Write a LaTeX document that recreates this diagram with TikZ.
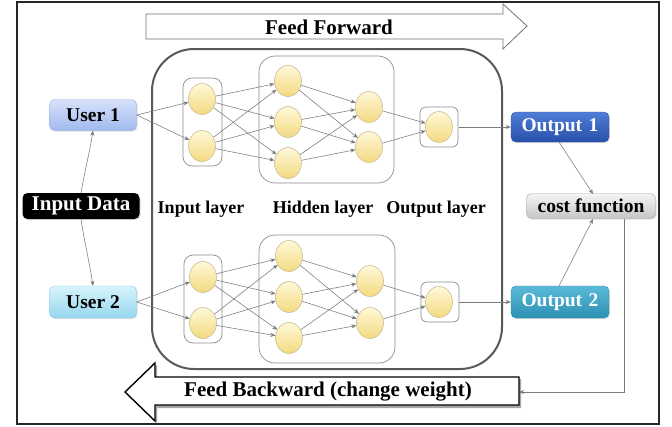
\documentclass[tikz,border=0pt]{standalone}
\usepackage{fontspec}
\setmainfont{Liberation Serif}
\usetikzlibrary{shapes.geometric,arrows.meta,shadows}

\definecolor{linkgray}{HTML}{7A7A7A}
\definecolor{boxgray}{HTML}{8C8C8C}
\definecolor{neurontop}{HTML}{FFF8D8}
\definecolor{neuronbot}{HTML}{F3DA80}
\definecolor{neuronedge}{HTML}{C9BE96}

\tikzset{
  neuron/.style={ellipse, minimum width=27pt, minimum height=31pt, inner sep=0pt,
    top color=neurontop, bottom color=neuronbot, draw=neuronedge, line width=0.6pt},
  layerbox/.style={draw=boxgray, rounded corners=9pt, line width=0.7pt, fill=white},
  link/.style={draw=linkgray, line width=0.55pt, -{Stealth[length=5pt,width=4pt]}},
  tagbox/.style={rounded corners=5pt, font=\bfseries\fontsize{19.5}{21}\selectfont,
    inner sep=0pt, drop shadow={opacity=0.25, shadow xshift=1pt, shadow yshift=-1pt}},
  caption/.style={font=\bfseries\fontsize{18}{20}\selectfont},
}

\begin{document}
\begin{tikzpicture}[x=1pt, y=-1pt]
  \useasboundingbox (0,0) rectangle (672,426);
  \fill[white] (0,0) rectangle (672,426);

  % outer frame
  \draw[line width=1.6pt, black!85] (17,2) rectangle (659,424);

  % Feed Forward arrow
  \draw[draw=black!55, line width=0.8pt, fill=white]
    (146,14) -- (503,14) -- (503,4) -- (527,26) -- (503,49) -- (503,39) -- (146,39) -- cycle;
  \node[font=\bfseries\fontsize{21}{23}\selectfont] (ff) at (329,27) {Feed Forward};

  % Feed Backward arrow (with shadow)
  \fill[black!35] (521,379) -- (157,379) -- (157,365) -- (127,394) -- (157,423) -- (157,408) -- (521,408) -- cycle;
  \draw[draw=black, line width=1.4pt, fill=white]
    (519,377) -- (155,377) -- (155,363) -- (125,392) -- (155,421) -- (155,405) -- (519,405) -- cycle;
  \coordinate (fbin) at (519,392);
  \node[font=\bfseries\fontsize{21}{23}\selectfont] (fb) at (328,392) {Feed Backward (change weight)};

  % network container
  \draw[line width=2pt, black!65, rounded corners=42pt] (152,49) rectangle (502,369);

  % layer boxes, upper network
  \draw[layerbox] (183,78) rectangle (222,166);
  \draw[layerbox, rounded corners=16pt] (259,56) rectangle (394,183);
  \draw[layerbox, rounded corners=6pt] (420,107) rectangle (458,147);
  % layer boxes, lower network
  \draw[layerbox] (184,255) rectangle (222,343);
  \draw[layerbox, rounded corners=16pt] (259,235) rectangle (395,363);
  \draw[layerbox, rounded corners=6pt] (421,282) rectangle (459,322);

  % neurons, upper network
  \node[neuron] (ai1) at (202,99) {};
  \node[neuron] (ai2) at (202,146) {};
  \node[neuron] (ah1) at (288,81) {};
  \node[neuron] (ah2) at (288,122) {};
  \node[neuron] (ah3) at (288,163) {};
  \node[neuron] (ak1) at (369,107) {};
  \node[neuron] (ak2) at (369,147) {};
  \node[neuron] (ao)  at (439,127) {};
  % neurons, lower network
  \node[neuron] (bi1) at (203,277) {};
  \node[neuron] (bi2) at (203,323) {};
  \node[neuron] (bh1) at (289,256) {};
  \node[neuron] (bh2) at (289,297) {};
  \node[neuron] (bh3) at (289,338) {};
  \node[neuron] (bk1) at (370,281) {};
  \node[neuron] (bk2) at (370,323) {};
  \node[neuron] (bo)  at (439,302) {};

  % layer captions
  \node[caption] (capin)  at (201,209) {Input layer};
  \node[caption] (caphid) at (323,209) {Hidden layer};
  \node[caption] (capout) at (436,209) {Output layer};

  % side boxes
  \node[tagbox, top color={rgb,255:red,215;green,226;blue,250}, bottom color={rgb,255:red,160;green,185;blue,238},
        draw={rgb,255:red,150;green,175;blue,225},
        minimum width=87pt, minimum height=31pt] (u1) at (93,115) {User 1};
  \node[tagbox, top color={rgb,255:red,215;green,244;blue,252}, bottom color={rgb,255:red,150;green,215;blue,238},
        draw={rgb,255:red,140;green,200;blue,225},
        minimum width=87pt, minimum height=32pt] (u2) at (93,302) {User 2};
  \node[tagbox, fill=black, text=white, font=\bfseries\fontsize{21}{23}\selectfont,
        minimum width=117pt, minimum height=26pt] (data) at (81,206) {Input Data};
  \node[tagbox, top color={rgb,255:red,80;green,125;blue,215}, bottom color={rgb,255:red,40;green,80;blue,170},
        draw={rgb,255:red,45;green,85;blue,170}, text=white,
        minimum width=98pt, minimum height=30pt] (o1) at (560,127) {Output\,\,1};
  \node[tagbox, top color={rgb,255:red,90;green,185;blue,215}, bottom color={rgb,255:red,45;green,145;blue,180},
        draw={rgb,255:red,50;green,140;blue,175}, text=white,
        minimum width=98pt, minimum height=32pt] (o2) at (560,302) {Output\,\,2};
  \node[tagbox, top color=gray!8, bottom color=gray!45, draw=gray!70,
        minimum width=129pt, minimum height=25pt] (cost) at (591,206) {cost function};

  % input data to users
  \draw[link] (data.north) .. controls (84,175) and (90,150) .. (u1.south);
  \draw[link] (data.south) .. controls (84,240) and (90,265) .. (u2.north);

  % users to input layers
  \foreach \n in {ai1,ai2} \draw[link] (u1.east) -- (\n);
  \foreach \n in {bi1,bi2} \draw[link] (u2.east) -- (\n);

  % fully connected layers
  \foreach \p in {a,b} {
    \foreach \i in {1,2} \foreach \h in {1,2,3}
      \draw[link] (\p i\i) -- (\p h\h);
    \foreach \h in {1,2,3} \foreach \k in {1,2}
      \draw[link] (\p h\h) -- (\p k\k);
    \foreach \k in {1,2}
      \draw[link] (\p k\k) -- (\p o);
  }

  % outputs
  \draw[link] (ao.east) ++(6,0) -- (o1.west);
  \draw[link] (bo.east) ++(6,0) -- (o2.west);
  \draw[link] (559,142) -- (593,194);
  \draw[link] (559,286) -- (593,219);

  % cost back to the network
  \draw[link] (624,219) |- (fbin);
\end{tikzpicture}
\end{document}
